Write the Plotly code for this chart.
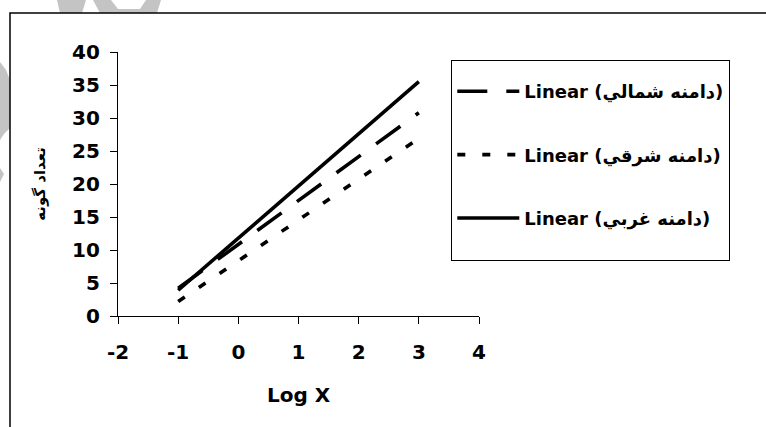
import plotly.graph_objects as go

# ---- data ----
log_x = [-1, 3]
north_y = [4.2, 30.8]   # Linear (دامنه شمالي)
east_y = [2.2, 26.9]    # Linear (دامنه شرقي)
west_y = [3.9, 35.5]    # Linear (دامنه غربي)
series_names = ["Linear (دامنه شمالي)", "Linear (دامنه شرقي)", "Linear (دامنه غربي)"]
x_tick_vals = [-2, -1, 0, 1, 2, 3, 4]
x_tick_text = ["-2", "-1", "0", "1", "2", "3", "4"]
y_tick_vals = [0, 5, 10, 15, 20, 25, 30, 35, 40]
x_title = "Log X"
y_title = "تعداد گونه"

# ---- layout geometry ----
W, H = 766, 427
ML, MR, MT, MB = 118, 287, 52, 111
PW = W - ML - MR
PH = H - MT - MB


def px(x):
    return (x - ML) / PW


def py(y):
    return (H - MB - y) / PH


def path(points):
    s = "M " + " L ".join(f"{px(a):.4f},{py(b):.4f}" for a, b in points)
    return s + " Z"


FONT = "DejaVu Sans, Liberation Sans, sans-serif"

fig = go.Figure()
styles = [
    (north_y, "30px,19px"),
    (east_y, "8px,17px"),
    (west_y, "solid"),
]
for i, (yv, dash) in enumerate(styles):
    label = series_names[i]
    if i == len(styles) - 1:
        label = label + "<br>\u00a0"   # extra blank line = bottom padding in the legend box
    fig.add_trace(go.Scatter(
        x=log_x, y=yv, mode="lines", name=label,
        legendgroup=f"g{i}",
        line=dict(color="black", width=3.6, dash=dash),
        hoverinfo="skip",
    ))

shapes = []
# faint grey watermark fragments outside the chart frame
grey = "#c4c4c4"
for pts in [
    [(57, 0), (86, 0), (82, 13), (60, 13)],
    [(93, 0), (111, 0), (118, 9), (140, 9), (146, 0), (161, 0), (157, 13), (100, 13)],
    [(0, 62), (6, 70), (10, 80), (10, 128), (4, 134), (0, 140)],
    [(0, 168), (4, 174), (0, 182)],
]:
    shapes.append(dict(type="path", xref="paper", yref="paper", path=path(pts),
                       fillcolor=grey, line=dict(width=0), layer="below"))
# chart area frame
shapes.append(dict(type="rect", xref="paper", yref="paper",
                   x0=px(10), x1=px(775), y0=py(437), y1=py(13),
                   line=dict(color="black", width=1.5), fillcolor="rgba(0,0,0,0)",
                   layer="below"))

fig.update_layout(
    width=W, height=H,
    margin=dict(l=ML, r=MR, t=MT, b=MB, autoexpand=False),
    paper_bgcolor="white", plot_bgcolor="white",
    font=dict(family=FONT, color="black", size=20, weight="bold"),
    shapes=shapes,
    showlegend=True,
    legend=dict(
        x=px(451), y=py(60), xanchor="left", yanchor="top",
        bordercolor="black", borderwidth=1.3, bgcolor="white",
        font=dict(family=FONT, size=18, color="black", weight="bold"),
        traceorder="grouped", tracegroupgap=37, itemwidth=62, valign="top",
        title=dict(text="\u00a0", font=dict(size=9)),
    ),
    xaxis=dict(
        range=[-2, 4], tickmode="array", tickvals=x_tick_vals, ticktext=x_tick_text,
        ticks="outside", ticklen=7, tickwidth=1.3, tickcolor="black",
        showline=True, linewidth=1.3, linecolor="black",
        showgrid=False, zeroline=False, ticklabelstandoff=11,
        tickfont=dict(family=FONT, size=20, weight="bold"),
        title=dict(text=x_title, font=dict(family=FONT, size=20, weight="bold"), standoff=24),
        automargin=False,
    ),
    yaxis=dict(
        range=[0, 40], tickmode="array", tickvals=y_tick_vals,
        ticks="outside", ticklen=7, tickwidth=1.3, tickcolor="black",
        showline=True, linewidth=1.3, linecolor="black",
        showgrid=False, zeroline=False, ticklabelstandoff=6,
        tickfont=dict(family=FONT, size=20, weight="bold"),
        title=dict(text=y_title, font=dict(family="DejaVu Sans, sans-serif", size=15, weight="bold"), standoff=22),
        automargin=False,
    ),
)

fig.write_html("out.html", config={"displayModeBar": False},
               post_script="document.body.style.margin='0px';")
